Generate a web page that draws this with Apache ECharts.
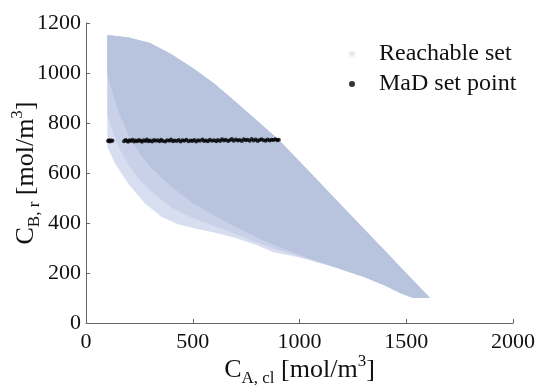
<!DOCTYPE html>
<html>
<head>
<meta charset="utf-8">
<script src="https://cdn.jsdelivr.net/npm/echarts@6/dist/echarts.min.js"></script>
<style>
html,body{margin:0;padding:0;background:#fff;}
#chart{width:537px;height:385px;}
</style>
</head>
<body>
<div id="chart"></div>
<script>
// Axis ticks
var xTicks = [0, 500, 1000, 1500, 2000];
var yTicks = [0, 200, 400, 600, 800, 1000, 1200];

// Reachable set: upper boundary (left to right)
var upperX = [100, 200, 300, 400, 500, 600, 700, 800, 900, 1000, 1100, 1200, 1300, 1400, 1500, 1560, 1611];
var upperY = [1152, 1142, 1120, 1075, 1020, 958, 885, 810, 735, 646, 557, 467, 378, 289, 199, 146, 100];

// Reachable set: lower boundary incl. sparse fringe (right to left)
var lowerX = [1533, 1471, 1400, 1300, 1158, 1000, 874, 800, 700, 600, 500, 432, 355, 276, 198, 136, 100];
var lowerY = [100, 120, 150, 185, 225, 262, 284, 312, 340, 362, 380, 395, 424, 478, 557, 638, 705];

// Mid-density boundary (right to left)
var midX = [1000, 900, 800, 700, 600, 500, 400, 300, 250, 200, 150, 100];
var midY = [266, 292, 322, 356, 388, 420, 462, 530, 575, 630, 710, 830];

// Dense core lower boundary (right to left)
var coreX = [1000, 900, 800, 700, 600, 500, 400, 300, 250, 200, 150, 100];
var coreY = [272, 305, 342, 385, 430, 480, 545, 625, 680, 750, 850, 990];

// MaD set points
var madX = [103,108,112,118,124,178,185,190,197,203,210,218,225,232,240,248,255,262,270,278,285,293,300,310,318,326,335,344,352,360,371,380,390,398,407,415,425,434,443,452,461,470,480,490,498,507,516,525,534,545,553,562,571,580,590,600,610,618,628,637,646,655,665,674,683,692,702,711,720,730,739,748,757,767,776,785,795,804,813,822,832,841,850,860,869,878,887,896,903];
var madY = [728,731,726,730,729,727,732,729,725,731,728,733,726,730,727,732,729,725,731,728,734,727,730,726,732,729,731,727,733,728,726,731,729,734,727,730,728,732,726,731,729,733,727,730,728,732,726,731,729,734,728,730,727,733,729,731,727,732,728,735,730,733,728,731,736,729,734,730,732,728,735,731,733,729,736,730,734,728,732,735,731,729,734,730,733,732,735,731,733];

var FONT = 'Liberation Serif';
var fringeColor = '#d7def0';
var midColor = '#c8d1e8';
var coreColor = '#b8c4de';

var chart = echarts.init(document.getElementById('chart'), null, {renderer: 'canvas'});

var madData = madX.map(function (x, i) { return [x, madY[i]]; });

function labelRich() {
  return {
    m: {fontSize: 26, fontFamily: FONT, color: '#111', lineHeight: 34, verticalAlign: 'middle'},
    s: {fontSize: 17, fontFamily: FONT, color: '#111', lineHeight: 17, verticalAlign: 'bottom'},
    p: {fontSize: 17, fontFamily: FONT, color: '#111', lineHeight: 17, verticalAlign: 'top'}
  };
}

function plain(v) { return String(v); }

function layerPoints(api, bx, by) {
  var pts = [], i;
  for (i = 0; i < upperX.length; i++) pts.push(api.coord([upperX[i], upperY[i]]));
  for (i = 0; i < lowerX.length; i++) {
    if (lowerX[i] > bx[0]) pts.push(api.coord([lowerX[i], lowerY[i]]));
  }
  for (i = 0; i < bx.length; i++) pts.push(api.coord([bx[i], by[i]]));
  return pts;
}

var option = {
  animation: false,
  backgroundColor: '#fff',
  grid: {left: 86, right: 24, top: 23, bottom: 62, containLabel: false, outerBoundsMode: 'none'},
  legend: {
    orient: 'vertical',
    left: 344,
    top: 37,
    itemWidth: 44,
    itemHeight: 6,
    itemGap: 6,
    textStyle: {fontSize: 24, fontFamily: FONT, color: '#111'},
    data: [
      {name: 'Reachable set', icon: 'circle', itemStyle: {color: '#e8ebf4'}},
      {name: 'MaD set point', icon: 'circle', itemStyle: {color: '#000'}}
    ]
  },
  xAxis: {
    type: 'value',
    min: xTicks[0], max: xTicks[xTicks.length - 1], interval: 500,
    name: '{m|C}{s|A, cl}{m| [mol/m}{p|3}{m|]}',
    nameLocation: 'middle',
    nameGap: 30,
    nameMoveOverlap: false,
    nameTextStyle: {rich: labelRich()},
    axisLine: {lineStyle: {color: '#666', width: 1}},
    axisTick: {inside: true, length: 4, lineStyle: {color: '#666'}},
    axisLabel: {fontSize: 22, fontFamily: FONT, color: '#111', margin: 8, formatter: plain},
    splitLine: {show: false}
  },
  yAxis: {
    type: 'value',
    min: yTicks[0], max: yTicks[yTicks.length - 1], interval: 200,
    name: '{m|C}{s|B, r}{m| [mol/m}{p|3}{m|]}',
    nameLocation: 'middle',
    nameRotate: 90,
    nameGap: 43,
    nameMoveOverlap: false,
    nameTextStyle: {rich: labelRich()},
    axisLine: {show: true, lineStyle: {color: '#666', width: 1}},
    axisTick: {show: true, inside: true, length: 4, lineStyle: {color: '#666'}},
    axisLabel: {fontSize: 22, fontFamily: FONT, color: '#111', margin: 5, formatter: plain},
    splitLine: {show: false}
  },
  series: [
    {
      name: 'Reachable set',
      type: 'custom',
      coordinateSystem: 'cartesian2d',
      itemStyle: {color: midColor},
      data: [[upperX[0], upperY[0]]],
      renderItem: function (params, api) {
        var outer = [], i;
        for (i = 0; i < upperX.length; i++) outer.push(api.coord([upperX[i], upperY[i]]));
        for (i = 0; i < lowerX.length; i++) outer.push(api.coord([lowerX[i], lowerY[i]]));
        return {
          type: 'group',
          children: [
            {type: 'polygon', shape: {points: outer}, style: {fill: fringeColor}},
            {type: 'polygon', shape: {points: layerPoints(api, midX, midY)}, style: {fill: midColor}},
            {type: 'polygon', shape: {points: layerPoints(api, coreX, coreY)}, style: {fill: coreColor}}
          ]
        };
      },
      z: 1
    },
    {
      name: 'MaD set point',
      type: 'scatter',
      symbol: 'circle',
      symbolSize: 4,
      itemStyle: {color: '#000'},
      data: madData,
      z: 3
    }
  ]
};

chart.setOption(option);
</script>
</body>
</html>
